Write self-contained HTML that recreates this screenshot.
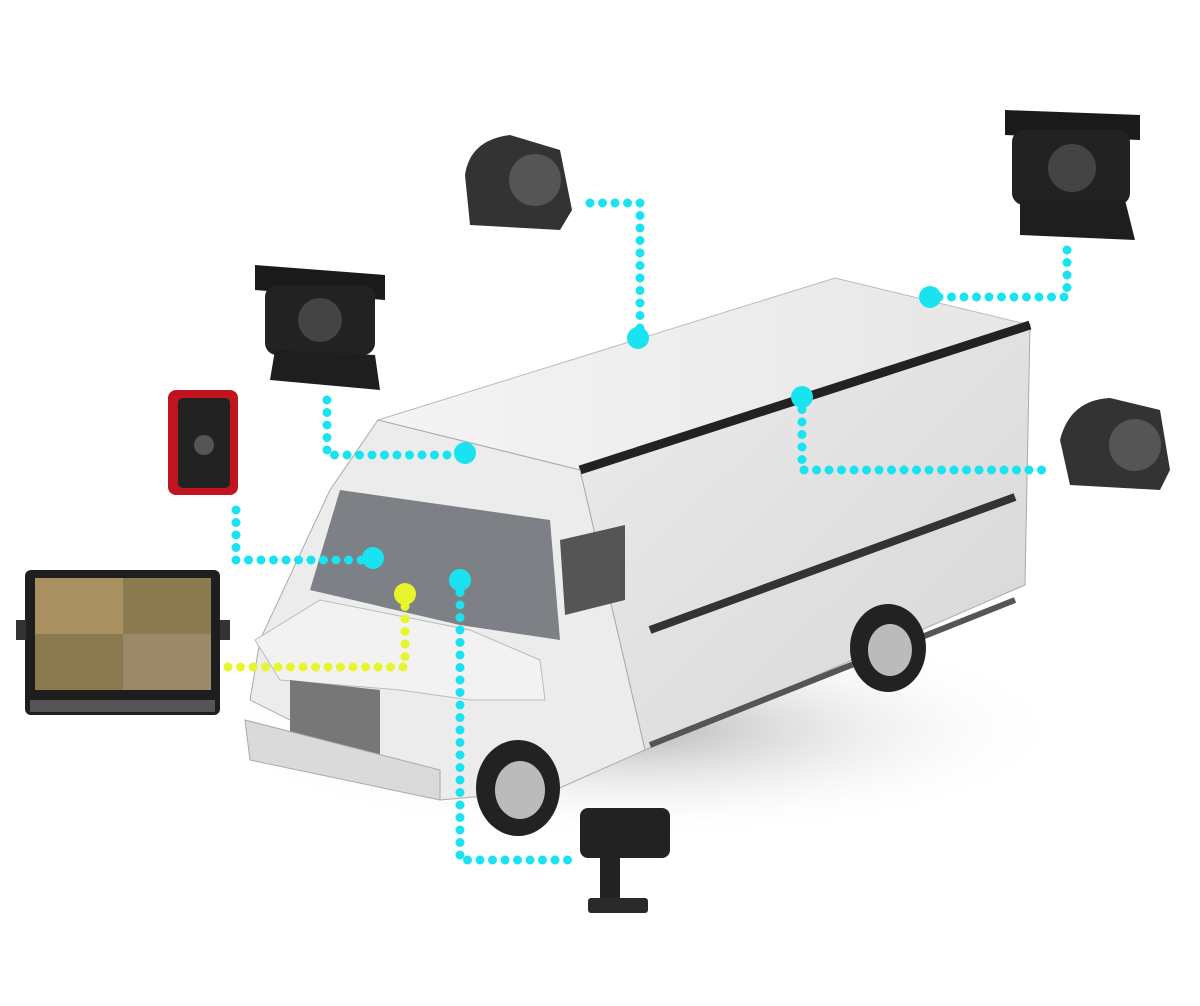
<!DOCTYPE html>
<html><head><meta charset="utf-8"><style>
html,body{margin:0;padding:0;background:#fff;}
svg{display:block}
</style></head><body>
<svg width="1200" height="1006" viewBox="0 0 1200 1006" xmlns="http://www.w3.org/2000/svg">
<defs>
<linearGradient id="side" x1="0" y1="0" x2="1" y2="1"><stop offset="0" stop-color="#ececec"/><stop offset="1" stop-color="#d6d6d6"/></linearGradient>
<linearGradient id="roof" x1="0" y1="0" x2="1" y2="0"><stop offset="0" stop-color="#f4f4f4"/><stop offset="1" stop-color="#e6e6e6"/></linearGradient>
<radialGradient id="shadow" cx="0.5" cy="0.5" r="0.5"><stop offset="0" stop-color="#9a9a9a"/><stop offset="1" stop-color="#fff" stop-opacity="0"/></radialGradient>
</defs>
<ellipse cx="640" cy="730" rx="430" ry="110" fill="url(#shadow)" opacity="0.7"/>
<polygon points="580,470 1030,325 1025,585 645,750" fill="url(#side)" stroke="#aaa"/>
<polygon points="378,420 835,278 1030,325 580,470" fill="url(#roof)" stroke="#bbb"/>
<polyline points="580,470 1030,325" stroke="#222" stroke-width="9" fill="none"/>
<line x1="650" y1="630" x2="1015" y2="497" stroke="#333" stroke-width="8"/>
<line x1="650" y1="745" x2="1015" y2="600" stroke="#555" stroke-width="6"/>
<polygon points="378,420 580,470 645,750 555,790 440,800 330,740 250,700 260,640 330,490" fill="#ececec" stroke="#aaa"/>
<polygon points="340,490 550,520 560,640 460,625 310,590" fill="#7d8185"/>
<polygon points="255,640 320,600 470,630 540,660 545,700 470,700 400,690 280,680" fill="#f2f2f2" stroke="#bbb"/>
<polygon points="290,680 380,690 380,760 290,740" fill="#777"/>
<polygon points="245,720 440,770 440,800 250,760" fill="#dadada" stroke="#aaa"/>
<polygon points="560,540 625,525 625,600 565,615" fill="#555"/>
<ellipse cx="518" cy="788" rx="42" ry="48" fill="#222"/>
<ellipse cx="520" cy="790" rx="25" ry="29" fill="#bbb"/>
<ellipse cx="888" cy="648" rx="38" ry="44" fill="#222"/>
<ellipse cx="890" cy="650" rx="22" ry="26" fill="#bbb"/>
<rect x="25" y="570" width="195" height="145" rx="6" fill="#1e1e1e"/>
<rect x="35" y="578" width="176" height="112" fill="#8a7a50"/>
<rect x="35" y="578" width="88" height="56" fill="#a89060"/>
<rect x="123" y="634" width="88" height="56" fill="#9a8a6a"/>
<rect x="30" y="700" width="185" height="12" fill="#555"/>
<rect x="16" y="620" width="10" height="20" fill="#333"/><rect x="220" y="620" width="10" height="20" fill="#333"/>
<rect x="168" y="390" width="70" height="105" rx="8" fill="#c0141e"/>
<rect x="178" y="398" width="52" height="90" rx="5" fill="#222"/>
<circle cx="204" cy="445" r="10" fill="#555"/>
<polygon points="255,265 385,275 385,300 255,290" fill="#1a1a1a"/>
<rect x="265" y="285" width="110" height="70" rx="12" fill="#222"/>
<circle cx="320" cy="320" r="22" fill="#444"/>
<polygon points="275,350 375,355 380,390 270,380" fill="#1e1e1e"/>
<path d="M465,175 Q470,140 510,135 L560,150 L572,210 L560,230 L470,225 Z" fill="#333"/>
<circle cx="535" cy="180" r="26" fill="#555"/>
<polygon points="1005,110 1140,115 1140,140 1005,135" fill="#1a1a1a"/>
<rect x="1012" y="130" width="118" height="75" rx="12" fill="#222"/>
<circle cx="1072" cy="168" r="24" fill="#444"/>
<polygon points="1020,200 1125,200 1135,240 1020,235" fill="#1e1e1e"/>
<path d="M1060,440 Q1070,400 1110,398 L1160,410 L1170,470 L1160,490 L1070,485 Z" fill="#333"/>
<circle cx="1135" cy="445" r="26" fill="#555"/>
<rect x="580" y="808" width="90" height="50" rx="8" fill="#222"/>
<rect x="600" y="855" width="20" height="50" fill="#222"/>
<rect x="588" y="898" width="60" height="15" rx="3" fill="#2a2a2a"/>
<g fill="none" stroke="#19e3f0" stroke-width="9" stroke-linecap="round" stroke-dasharray="0 12.5">
<polyline points="590,203 640,203 640,338"/>
<polyline points="1067,250 1067,297 930,297"/>
<polyline points="327,400 327,455 465,455"/>
<polyline points="802,397 802,470 1045,470"/>
<polyline points="236,510 236,560 373,560"/>
<polyline points="460,580 460,860 575,860"/>
</g>
<polyline points="405,594 405,667 225,667" fill="none" stroke="#e8f52a" stroke-width="9" stroke-linecap="round" stroke-dasharray="0 12.5"/>
<g fill="#19e3f0">
<circle cx="638" cy="338" r="11"/><circle cx="930" cy="297" r="11"/><circle cx="465" cy="453" r="11"/>
<circle cx="802" cy="397" r="11"/><circle cx="373" cy="558" r="11"/><circle cx="460" cy="580" r="11"/>
</g>
<circle cx="405" cy="594" r="11" fill="#e8f52a"/>
</svg>
</body></html>
